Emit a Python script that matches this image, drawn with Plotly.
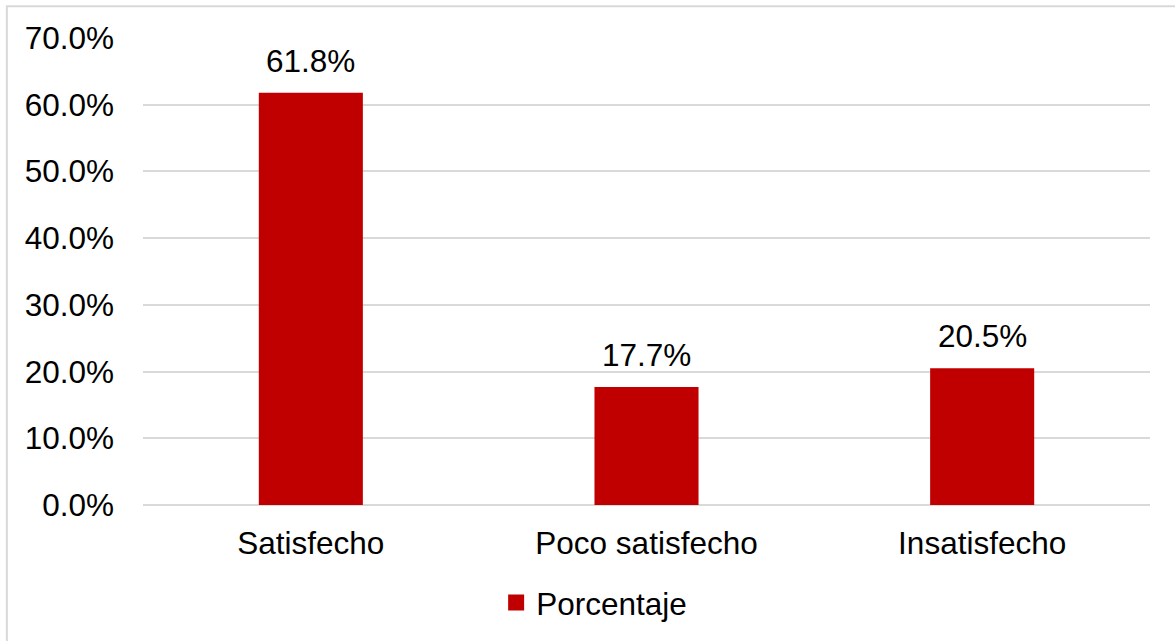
import plotly.graph_objects as go

categories = ["Satisfecho", "Poco satisfecho", "Insatisfecho"]
porcentaje = [61.8, 17.7, 20.5]
y_ticks = [0, 10, 20, 30, 40, 50, 60, 70]
series_name = "Porcentaje"

RED = "#C00000"
FONT = "Liberation Sans, Arial, sans-serif"
FS = 31.5

fig = go.Figure()
fig.add_trace(go.Bar(
    x=categories, y=porcentaje, name=series_name,
    marker=dict(color=RED, line=dict(width=0)),
    width=0.31, showlegend=False,
))
fig.add_trace(go.Scatter(
    x=[None], y=[None], mode="markers", name=series_name,
    marker=dict(symbol="square", size=16, color=RED),
    showlegend=True,
))

for c, v in zip(categories, porcentaje):
    fig.add_annotation(x=c, y=v, xref="x", yref="y", text=f"{v:.1f}%",
                       showarrow=False, yanchor="bottom", yshift=12,
                       font=dict(size=FS, color="#000000", family=FONT))

fig.update_layout(
    width=1175, height=641,
    margin=dict(l=143, r=25, t=38, b=134),
    paper_bgcolor="white", plot_bgcolor="white",
    font=dict(family=FONT, size=FS, color="#000000"),
    legend=dict(orientation="h", x=0.448, xanchor="center", y=-0.209, yanchor="middle",
                font=dict(size=FS), itemwidth=30, bgcolor="rgba(0,0,0,0)"),
    xaxis=dict(showgrid=False, showline=False, ticks="", ticklabelstandoff=16,
               tickfont=dict(size=FS)),
    yaxis=dict(range=[0, 70], tickvals=y_ticks, ticktext=[f"{v:.1f}%" for v in y_ticks],
               showgrid=True, gridcolor="#D9D9D9", gridwidth=1.5,
               zeroline=True, zerolinecolor="#D9D9D9", zerolinewidth=1.5,
               showline=False, ticks="", ticklabelstandoff=28,
               tickfont=dict(size=FS)),
    shapes=[dict(type="rect", xref="paper", yref="paper",
                 x0=-0.1352, x1=1.05, y0=-0.4, y1=1.068,
                 line=dict(color="#D9D9D9", width=2), fillcolor="rgba(0,0,0,0)", layer="below")],
)

fig.write_html("out.html", config={"displayModeBar": False},
               post_script="document.body.style.margin='0';document.documentElement.style.margin='0';")
